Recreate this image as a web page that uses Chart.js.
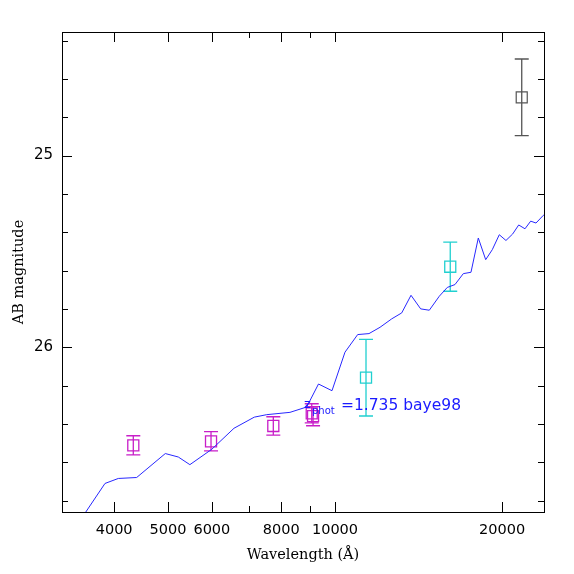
<!DOCTYPE html>
<html>
<head>
<meta charset="utf-8">
<script src="https://cdn.jsdelivr.net/npm/chart.js@4/dist/chart.umd.min.js"></script>
<style>
  html, body { margin: 0; padding: 0; background: #fff; }
  #wrap { width: 574px; height: 574px; }
</style>
</head>
<body>
<div id="wrap"><canvas id="sed-chart"></canvas></div>
<script>
// model SED (blue line)
const modelWave = [3300, 3851, 4070, 4392, 4946, 5220, 5477, 5996, 6577, 7154, 7533, 8296, 8892, 9338, 9876,
    10423, 10987, 11515, 12054, 12654, 13189, 13707, 14269, 14788, 15414, 15934, 16452, 17029, 17579,
    18122, 18686, 19205, 19770, 20326, 20900, 21429, 21994, 22522, 23024, 23731, 24300];
const modelMag = [27.00, 26.711, 26.685, 26.680, 26.555, 26.573, 26.613, 26.533, 26.423, 26.365, 26.352, 26.340, 26.312, 26.192, 26.227,
    26.026, 25.934, 25.929, 25.896, 25.852, 25.821, 25.729, 25.800, 25.807, 25.734, 25.688, 25.673, 25.616, 25.609,
    25.430, 25.543, 25.491, 25.413, 25.443, 25.409, 25.362, 25.382, 25.342, 25.352, 25.312, 25.29];

// photometry
const opticalWave = [4331, 5979, 7742, 9080, 9130];
const opticalMag = [26.512, 26.491, 26.411, 26.345, 26.36];
const opticalErr = [0.05, 0.05, 0.048, 0.05, 0.05];

const nirWave = [11373, 16131];
const nirMag = [26.159, 25.580];
const nirErr = [0.2, 0.128];

const kWave = [21700];
const kMag = [24.696];
const kErr = [0.2];

// axes
const xMajorTicks = [4000, 5000, 6000, 8000, 10000, 20000];
const xMinorTicks = [7000, 9000];
const yMajorTicks = [25, 26];
const yMinorTicks = [24.4, 24.6, 24.8, 25.2, 25.4, 25.6, 25.8, 26.2, 26.4, 26.6, 26.8];

const annoWave = 8756;
const annoMag = 26.33;

const toPoints = (xs, ys) => xs.map((v, i) => ({ x: v, y: ys[i] }));

// vertical error bars with caps
const errorBars = {
    id: 'errorBars',
    beforeDatasetsDraw(chart) {
        const { ctx, scales: { x, y } } = chart;
        ctx.save();
        chart.data.datasets.forEach(ds => {
            if (!ds.err) return;
            ctx.strokeStyle = ds.borderColor;
            ctx.lineWidth = 1.3;
            ds.data.forEach((p, i) => {
                const px = x.getPixelForValue(p.x);
                const y1 = y.getPixelForValue(p.y - ds.err[i]);
                const y2 = y.getPixelForValue(p.y + ds.err[i]);
                ctx.beginPath();
                ctx.moveTo(px, y1); ctx.lineTo(px, y2);
                ctx.moveTo(px - 7, y1); ctx.lineTo(px + 7, y1);
                ctx.moveTo(px - 7, y2); ctx.lineTo(px + 7, y2);
                ctx.stroke();
            });
        });
        ctx.restore();
    }
};

// box and inward ticks on all four sides
const frameTicks = {
    id: 'frameTicks',
    afterDraw(chart) {
        const { ctx, chartArea: a, scales: { x, y } } = chart;
        ctx.save();
        ctx.strokeStyle = '#000';
        ctx.lineWidth = 1;
        ctx.strokeRect(a.left + 0.5, a.top + 0.5, a.right - a.left, a.bottom - a.top);
        ctx.beginPath();
        const xt = (v, len) => {
            const px = Math.round(x.getPixelForValue(v)) + 0.5;
            ctx.moveTo(px, a.bottom); ctx.lineTo(px, a.bottom - len);
            ctx.moveTo(px, a.top); ctx.lineTo(px, a.top + len);
        };
        const yt = (v, len) => {
            const py = Math.round(y.getPixelForValue(v)) + 0.5;
            ctx.moveTo(a.left, py); ctx.lineTo(a.left + len, py);
            ctx.moveTo(a.right, py); ctx.lineTo(a.right - len, py);
        };
        xMajorTicks.forEach(v => xt(v, 10));
        xMinorTicks.forEach(v => xt(v, 6));
        yMajorTicks.forEach(v => yt(v, 10));
        yMinorTicks.forEach(v => yt(v, 6));
        ctx.stroke();
        ctx.restore();
    }
};

// z_phot label
const photoZLabel = {
    id: 'photoZLabel',
    afterDatasetsDraw(chart) {
        const { ctx, scales: { x, y } } = chart;
        const x0 = x.getPixelForValue(annoWave);
        const y0 = y.getPixelForValue(annoMag);
        ctx.save();
        ctx.fillStyle = '#1a1aff';
        ctx.textBaseline = 'alphabetic';
        ctx.font = '13px "DejaVu Sans"';
        ctx.fillText('z', x0 + 1, y0 - 2.5);
        ctx.font = '10px "DejaVu Sans"';
        ctx.fillText('phot', x0 + 9, y0 + 3.5);
        ctx.font = '15.5px "DejaVu Sans"';
        ctx.fillText('=1.735 baye98', x0 + 38, y0);
        ctx.restore();
    }
};

new Chart(document.getElementById('sed-chart'), {
    type: 'scatter',
    data: {
        datasets: [{
            data: toPoints(modelWave, modelMag),
            showLine: true,
            borderColor: 'rgb(40,40,255)',
            borderWidth: 1,
            pointRadius: 0,
            tension: 0
        }, {
            data: toPoints(opticalWave, opticalMag),
            err: opticalErr,
            borderColor: '#c81ec8',
            backgroundColor: 'rgba(0,0,0,0)',
            borderWidth: 1.3,
            pointStyle: 'rect',
            pointRadius: 7.8
        }, {
            data: toPoints(nirWave, nirMag),
            err: nirErr,
            borderColor: '#20d0d0',
            backgroundColor: 'rgba(0,0,0,0)',
            borderWidth: 1.3,
            pointStyle: 'rect',
            pointRadius: 7.8
        }, {
            data: toPoints(kWave, kMag),
            err: kErr,
            borderColor: '#555555',
            backgroundColor: 'rgba(0,0,0,0)',
            borderWidth: 1.2,
            pointStyle: 'rect',
            pointRadius: 7.8
        }]
    },
    options: {
        responsive: true,
        maintainAspectRatio: false,
        animation: false,
        layout: { padding: { top: 32, right: 30, left: 0, bottom: 0 } },
        plugins: { legend: { display: false }, tooltip: { enabled: false } },
        scales: {
            x: {
                type: 'logarithmic',
                min: 3222,
                max: 23800,
                afterBuildTicks: s => { s.ticks = xMajorTicks.concat(xMinorTicks).sort((a, b) => a - b).map(v => ({ value: v })); },
                afterFit: s => { s.height = 62; },
                grid: { display: false, drawTicks: false },
                border: { display: false },
                ticks: {
                    autoSkip: false,
                    maxRotation: 0,
                    padding: 10,
                    color: '#000',
                    font: { family: 'DejaVu Sans', size: 14.5 },
                    callback: v => xMajorTicks.includes(v) ? String(v) : ''
                },
                title: {
                    display: true,
                    text: 'Wavelength (Å)',
                    color: '#000',
                    font: { family: 'DejaVu Serif', size: 14.5 },
                    padding: { top: 0, bottom: 10 }
                }
            },
            y: {
                type: 'linear',
                reverse: true,
                min: 24.355,
                max: 26.86,
                afterBuildTicks: s => { s.ticks = yMajorTicks.map(v => ({ value: v })); },
                afterFit: s => { s.width = 62; },
                grid: { display: false, drawTicks: false },
                border: { display: false },
                ticks: {
                    padding: 9,
                    color: '#000',
                    font: { family: 'DejaVu Sans', size: 15 },
                    callback: v => String(v)
                },
                title: {
                    display: true,
                    text: 'AB magnitude',
                    color: '#000',
                    font: { family: 'DejaVu Serif', size: 14.5 },
                    padding: { top: 11, bottom: 0 }
                }
            }
        }
    },
    plugins: [errorBars, frameTicks, photoZLabel]
});
</script>
</body>
</html>
